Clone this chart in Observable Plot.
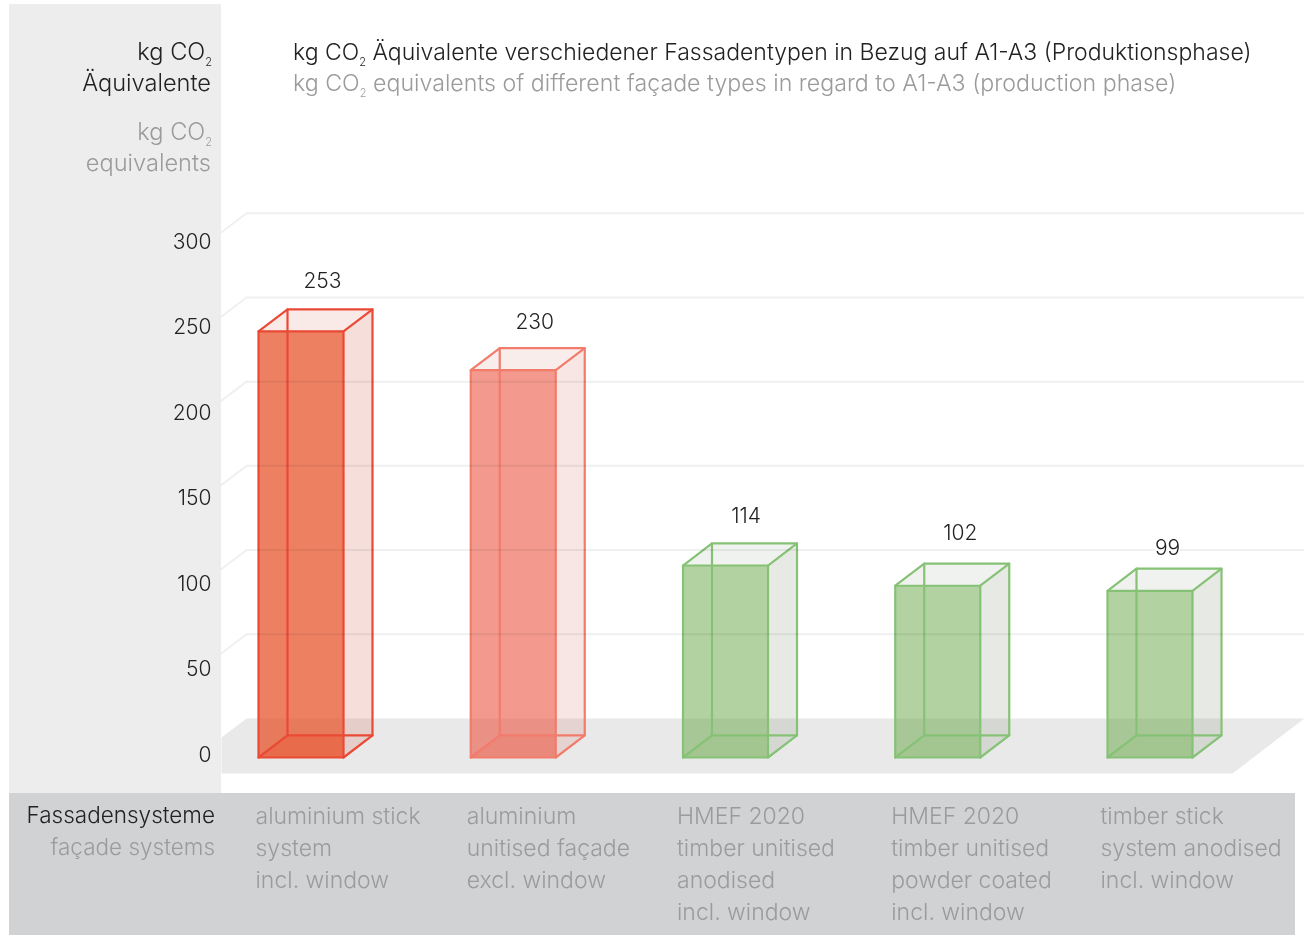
<!DOCTYPE html>
<html><head><meta charset="utf-8">
<script src="https://cdn.jsdelivr.net/npm/d3@7"></script>
<script src="https://cdn.jsdelivr.net/npm/@observablehq/plot@0.6"></script>
<style>
html,body{margin:0;padding:0;background:#fff}
#page{position:relative;width:1304px;height:935px;overflow:hidden;font-family:Inter,"Open Sans",sans-serif;font-weight:300}
.panel{position:absolute}
.t{position:absolute;white-space:nowrap;font-size:23px;line-height:32px;color:#222}
.g{color:#9b9b9b}
.r{text-align:right}
.t sub{font-size:11px;line-height:0;vertical-align:-6px}
#chart{position:absolute;left:0;top:0}
#chart svg{background:transparent;display:block}
</style></head><body>
<div id="page">
<div class="panel" style="left:9px;top:4px;width:212px;height:791px;background:#ededed"></div>
<div class="panel" style="left:9px;top:793px;width:1286px;height:142px;background:#d1d2d4"></div>
<div id="chart"></div>
<div class="t r" style="right:1092px;top:36px;font-size:23.6px">kg CO<sub>2</sub></div>
<div class="t r" style="right:1093px;top:67px;font-size:23.6px">Äquivalente</div>
<div class="t r g" style="right:1092px;top:116px;font-size:23.6px">kg CO<sub>2</sub></div>
<div class="t r g" style="right:1093px;top:147px;font-size:23.6px">equivalents</div>
<div class="t" style="left:293px;top:36px">kg CO<sub>2</sub> Äquivalente verschiedener Fassadentypen in Bezug auf A1-A3 (Produktionsphase)</div>
<div class="t g" style="left:293px;top:67px;font-size:23.2px">kg CO<sub>2</sub> equivalents of different façade types in regard to A1-A3 (production phase)</div>
<div class="t r" style="right:1089px;top:799px;font-size:22.5px">Fassadensysteme</div>
<div class="t r g" style="right:1089px;top:831px;font-size:22.5px">façade systems</div>
</div>
<script>
const categories = [
  "aluminium stick\nsystem\nincl. window",
  "aluminium\nunitised façade\nexcl. window",
  "HMEF 2020\ntimber unitised\nanodised\nincl. window",
  "HMEF 2020\ntimber unitised\npowder coated\nincl. window",
  "timber stick\nsystem anodised\nincl. window"
];
const values = [253, 230, 114, 102, 99];
const yTicks = [0, 50, 100, 150, 200, 250, 300];

// styling per bar
const green = {front:"rgb(107,170,75)", frontOp:.52, base:"rgb(107,170,75)", baseOp:.07, side:"rgb(120,140,105)", sideOp:.18, topOp:.11, edge:"#86c276"};
const palette = [
  {front:"rgb(231,79,37)", frontOp:.72, base:"rgb(232,60,40)", baseOp:.3, side:"rgb(215,105,85)", sideOp:.22, topOp:.14, edge:"#ea4a35"},
  {front:"rgb(235,85,65)", frontOp:.6, base:"rgb(232,90,70)", baseOp:.14, side:"rgb(205,105,90)", sideOp:.17, topOp:.12, edge:"#f27c6c"},
  green, green, green
];
// layout helpers in scale units
const W = .4005, DX = .1366, DY = 13.1;
const wallLift = 23.2, wallX = -.0565, leftX = -.1743, rightX = 4.928, floorFrontRight = 4.589, floorFront = -9.5, leftDrop = 11.3;
const labelNudge = [{dx:64,dy:-28},{dx:64,dy:-26},{dx:63,dy:-27},{dx:65,dy:-30},{dx:60,dy:-20}];
const catDx = [-3,-4,-6,-4,-7];
const tickK = 1.0154, tickC = 2.4;

const poly = (pts) => pts.map(([x,y]) => ({x,y}));
const face = (pts, o) => Plot.line(poly(pts), {x:"x", y:"y", stroke:"none", ...o});

const marks = [];
const textMarks = [];
// floor
marks.push(face([[leftX,floorFront],[leftX,wallLift-leftDrop],[wallX,wallLift],[rightX,wallLift],[floorFrontRight,floorFront],[leftX,floorFront]],{fill:"#e9e9e9"}));
// bars
values.forEach((v,i) => {
  const p = palette[i];
  const l=i, r=i+W, a=l+DX, b=r+DX, t=v+DY;
  marks.push(face([[r,0],[b,DY],[b,t],[r,v]],{fill:p.side,fillOpacity:p.sideOp}));
  marks.push(face([[a,t],[b,t],[r,v],[l,v]],{fill:p.side,fillOpacity:p.topOp}));
  marks.push(face([[l,0],[r,0],[r,DY],[a,DY]],{fill:p.base,fillOpacity:p.baseOp}));
  marks.push(Plot.rect([{v}],{x1:()=>l,x2:()=>r,y1:()=>0,y2:"v",fill:p.front,fillOpacity:p.frontOp}));
  const edges = [
    [[l,0],[r,0],[r,v],[l,v],[l,0]],
    [[a,DY],[b,DY],[b,t],[a,t],[a,DY]],
    [[l,0],[a,DY]],[[r,0],[b,DY]],[[l,v],[a,t]],[[r,v],[b,t]]
  ];
  edges.forEach(e => marks.push(Plot.line(poly(e),{x:"x",y:"y",stroke:p.edge,strokeWidth:2.2,strokeLinejoin:"round",strokeLinecap:"round"})));
  textMarks.push(Plot.text([v],{x:()=>l,y:()=>t,dx:labelNudge[i].dx,dy:labelNudge[i].dy,text:d=>String(d),fontSize:21,fill:"#222",stroke:"white",strokeWidth:3,paintOrder:"stroke",textAnchor:"middle"}));
  textMarks.push(Plot.text([categories[i]],{x:()=>l,y:()=>floorFront,dx:catDx[i],dy:28,text:d=>d,fontSize:23,fill:"#9b9b9b",textAnchor:"start",lineAnchor:"top",lineHeight:32/23}));
});
// back-wall gridlines, seen through the translucent bars
yTicks.slice(1).forEach(t => {
  marks.push(Plot.line(poly([[leftX,t+wallLift-leftDrop],[wallX,t+wallLift],[rightX,t+wallLift]]),{x:"x",y:"y",stroke:"#f0f0f0",strokeWidth:2,mixBlendMode:"multiply"}));
});
// y tick labels
textMarks.push(Plot.text(yTicks,{x:()=>leftX,y:d=>d*tickK+tickC,dx:-10,dy:1.5,text:d=>String(d),fontSize:21,fill:"#222",textAnchor:"end"}));

const plot = Plot.plot({
  width:1304,height:935,margin:0,
  style:{fontFamily:'Inter,"Open Sans",sans-serif',fontWeight:300,background:"transparent",overflow:"visible"},
  x:{type:"linear",domain:[0,4],range:[258,1107],axis:null},
  y:{type:"linear",domain:[0,300],range:[757,251.8],axis:null},
  marks:[...marks,...textMarks]
});
document.getElementById("chart").append(plot);
</script>
</body></html>
